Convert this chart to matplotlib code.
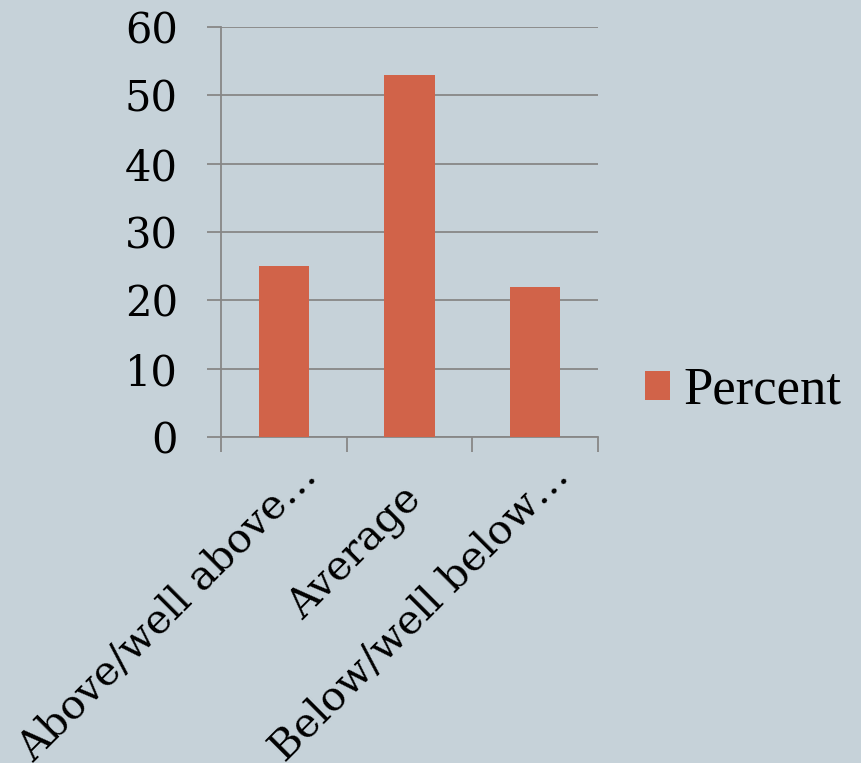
import matplotlib
matplotlib.use("Agg")
import matplotlib.pyplot as plt
import matplotlib.transforms as mtransforms

# -------------------------
# DATOS
# -------------------------
categorias = ["Above/well above…", "Average", "Below/well below…"]
porcentajes = [25, 53, 22]
serie = "Percent"
y_ticks = [0, 10, 20, 30, 40, 50, 60]

# -------------------------
# ESTILO
# -------------------------
FONDO = "#C6D2D9"
BARRA = "#D16349"
GRIS = "#878787"
SERIF = ["DejaVu Serif"]

fig = plt.figure(figsize=(8.61, 7.63), dpi=100, facecolor=FONDO)
ax = fig.add_axes([221 / 861, 1 - 437 / 763, 377 / 861, 410 / 763])
ax.set_facecolor(FONDO)

x = list(range(len(categorias)))
ax.bar(x, porcentajes, width=0.4, color=BARRA, label=serie, zorder=3)

ax.set_xlim(-0.5, len(categorias) - 0.5)
ax.set_ylim(0, 60)
ax.set_yticks(y_ticks)
ax.yaxis.grid(True, color=GRIS, linewidth=1.3, zorder=0)

for s in ["top", "right"]:
    ax.spines[s].set_visible(False)
for s in ["left", "bottom"]:
    ax.spines[s].set_color(GRIS)
    ax.spines[s].set_linewidth(1.3)

ax.tick_params(axis="y", length=10, width=1.3, color=GRIS, pad=21,
               labelsize=30, labelcolor="black")
for lbl in ax.get_yticklabels():
    lbl.set_family(SERIF)

# marcas del eje x entre categorias
ax.set_xticks([i - 0.5 for i in range(len(categorias) + 1)], minor=True)
ax.tick_params(axis="x", which="minor", length=11, width=1.3, color=GRIS)
ax.set_xticks(x)
ax.set_xticklabels(categorias, rotation=45, ha="right", va="baseline",
                   rotation_mode="anchor", fontsize=29.5, family=SERIF)
ax.tick_params(axis="x", which="major", length=0, pad=0)

# desplazamiento de etiquetas (px)
desplaz = [(35, -41), (13, -63), (35, -41)]
for lbl, (dx, dy) in zip(ax.get_xticklabels(), desplaz):
    off = mtransforms.ScaledTranslation(dx / 100, dy / 100, fig.dpi_scale_trans)
    lbl.set_transform(lbl.get_transform() + off)

fig.legend(loc="center left", bbox_to_anchor=(645 / 861, 1 - 391 / 763),
           frameon=False, prop={"family": "Liberation Serif", "size": 38},
           handlelength=0.47, handleheight=0.47, handletextpad=0.25,
           borderpad=0, borderaxespad=0)

fig.savefig("out.png", dpi=100, facecolor=FONDO)
